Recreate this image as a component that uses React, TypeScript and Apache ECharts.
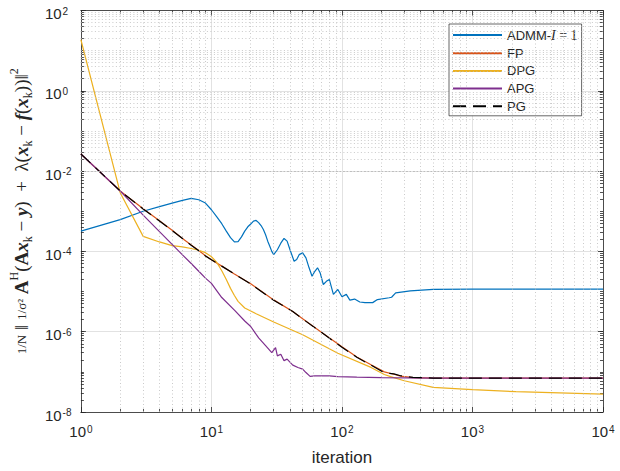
import React, { useEffect, useRef } from "react";
import * as echarts from "echarts";

// ---- data ----
const ADMM_K = [1, 2, 3, 4, 5, 6, 7, 8, 9, 10, 11, 12, 13, 14, 15, 16, 17, 18, 19, 20, 21, 22, 23, 24, 25, 26, 27, 28, 29, 30, 32, 34, 36, 38, 40, 43, 45, 47, 50, 53, 56, 59, 62, 65, 68, 72, 76, 80, 86, 93, 100, 108, 115, 125, 137, 150, 172, 187, 230, 240, 258, 334, 500, 1000, 10000];
const ADMM_V = [3.2e-4, 6.2e-4, 1.0e-3, 1.3e-3, 1.6e-3, 1.86e-3, 2.1e-3, 1.93e-3, 1.6e-3, 1.09e-3, 7.2e-4, 4.9e-4, 3.2e-4, 2.2e-4, 1.72e-4, 1.75e-4, 2.3e-4, 3.2e-4, 4.1e-4, 4.8e-4, 5.7e-4, 5.9e-4, 5.2e-4, 4.4e-4, 3.5e-4, 2.6e-4, 1.8e-4, 1.35e-4, 1.0e-4, 8.3e-5, 1.1e-4, 1.6e-4, 2.1e-4, 1.8e-4, 1.1e-4, 5.7e-5, 6.3e-5, 8.3e-5, 9.2e-5, 6.9e-5, 3.9e-5, 2.4e-5, 3.2e-5, 3.9e-5, 2.95e-5, 1.5e-5, 1.8e-5, 2.0e-5, 8.5e-6, 1.13e-5, 7.4e-6, 8.5e-6, 6.1e-6, 6.5e-6, 5.5e-6, 5.3e-6, 5.3e-6, 6.3e-6, 7.0e-6, 7.2e-6, 9.3e-6, 1.04e-5, 1.13e-5, 1.15e-5, 1.15e-5];

const PG_K = [1, 2, 3, 4, 5, 6, 7, 8, 9, 10, 12, 15, 20, 30, 42, 50, 70, 100, 130, 167, 211, 250, 281, 350, 500, 1000, 10000];
const PG_V = [2.67e-2, 3.2e-3, 1.14e-3, 5.7e-4, 3.3e-4, 2.1e-4, 1.43e-4, 1.04e-4, 7.7e-5, 6.2e-5, 4.3e-5, 2.75e-5, 1.55e-5, 6.1e-6, 3.2e-6, 2.08e-6, 9.5e-7, 4.1e-7, 2.3e-7, 1.47e-7, 9.5e-8, 8.9e-8, 8.0e-8, 7.3e-8, 7.0e-8, 7.0e-8, 7.0e-8];

const FP_K = [1, 2, 3, 4, 5, 6, 7, 8, 9, 10, 12, 15, 20, 30, 42, 50, 70, 100, 130, 167, 211, 250, 281, 350, 500, 1000, 10000];
const FP_V = [2.67e-2, 3.2e-3, 1.15e-3, 5.8e-4, 3.35e-4, 2.1e-4, 1.45e-4, 1.05e-4, 7.8e-5, 6.2e-5, 4.3e-5, 2.75e-5, 1.56e-5, 6.2e-6, 3.2e-6, 2.1e-6, 9.6e-7, 4.2e-7, 2.35e-7, 1.5e-7, 1.0e-7, 8.7e-8, 7.8e-8, 7.2e-8, 7.0e-8, 7.0e-8, 7.0e-8];

const DPG_K = [1, 2, 3, 4, 5, 6, 7, 8, 9, 10, 11, 12, 13, 14, 15, 16, 18, 22, 30, 50, 93, 167, 211, 236, 300, 500, 1000, 2150, 10000];
const DPG_V = [18.7, 2.9e-3, 2.37e-4, 1.72e-4, 1.39e-4, 1.29e-4, 1.18e-4, 1.07e-4, 9.3e-5, 7.4e-5, 5.3e-5, 3.3e-5, 2.0e-5, 1.2e-5, 8.0e-6, 5.7e-6, 3.9e-6, 2.8e-6, 1.75e-6, 8.4e-7, 2.9e-7, 1.29e-7, 8.6e-8, 7.6e-8, 6.0e-8, 4.1e-8, 3.6e-8, 3.2e-8, 2.8e-8];

const APG_K = [1, 2, 3, 4, 5, 6, 7, 8, 9, 10, 12, 15, 18, 20, 23, 26, 29, 31, 32, 34, 36, 38, 42, 46, 50, 53, 57, 62, 70, 80, 93, 130, 200, 500, 1000, 10000];
const APG_V = [2.67e-2, 3.2e-3, 8.0e-4, 3.1e-4, 1.5e-4, 8.2e-5, 5.0e-5, 3.2e-5, 2.16e-5, 1.6e-5, 7.1e-6, 3.45e-6, 1.85e-6, 1.35e-6, 7.0e-7, 4.5e-7, 3.0e-7, 4.0e-7, 2.5e-7, 2.75e-7, 1.9e-7, 2.07e-7, 1.47e-7, 1.28e-7, 1.17e-7, 9.6e-8, 7.7e-8, 7.9e-8, 8.0e-8, 7.9e-8, 7.6e-8, 7.4e-8, 7.2e-8, 7.0e-8, 7.0e-8, 7.0e-8];

const SERIES_NAMES = ["ADMM-I=1", "FP", "DPG", "APG", "PG"];
const X_MIN = 1;
const X_MAX = 10000;
const Y_MIN = 1e-8;
const Y_MAX = 100;

const SANS = "'Liberation Sans', Arial, Helvetica, sans-serif";
const SERIF = "'Liberation Serif', 'DejaVu Serif', serif";
const INK = "#262626";

const zip = (k: number[], v: number[]) => k.map((x, i) => [x, v[i]]);

// minor grid positions (2..9 x 10^d), plus odd decades on y
const minorX: number[] = [];
for (let d = 0; d < 4; d++) for (let m = 2; m <= 9; m++) minorX.push(m * Math.pow(10, d));
const minorY: number[] = [];
for (let d = -8; d < 2; d++) {
  for (let m = 1; m <= 9; m++) {
    if (m === 1 && d % 2 === 0) continue;
    minorY.push(Number((m * Math.pow(10, d)).toPrecision(3)));
  }
}

const powLabel = (v: number) => `{b|10}{s|${Math.round(Math.log10(v))}}`;
const tickRich = {
  b: { fontSize: 15, lineHeight: 15, padding: [6, 0, 0, 0], fontFamily: SANS, color: INK },
  s: { fontSize: 10, lineHeight: 10, padding: [3, 0, 0, 1], verticalAlign: "top", fontFamily: SANS, color: INK },
};

export default function App() {
  const ref = useRef<HTMLDivElement>(null);
  useEffect(() => {
    if (!ref.current) return;
    const chart = echarts.init(ref.current, null, { renderer: "svg" });
    const lineSeries = (name: string, data: number[][], color: string, extra: any = {}) => ({
      name,
      type: "line",
      data,
      symbol: "none",
      showSymbol: false,
      silent: true,
      itemStyle: { color },
      lineStyle: { color, width: 1.2, ...(extra.lineStyle || {}) },
      z: extra.z ?? 3,
    });
    const option: any = {
      animation: false,
      backgroundColor: "#ffffff",
      textStyle: { fontFamily: SANS },
      grid: { left: 71, right: 17, top: 10, bottom: 58, containLabel: false },
      legend: {
        data: SERIES_NAMES,
        orient: "vertical",
        left: 449,
        top: 24,
        padding: [4, 4, 3, 3],
        itemGap: 4.7,
        itemWidth: 49,
        itemHeight: 14,
        borderColor: INK,
        borderWidth: 0.7,
        borderRadius: 0,
        backgroundColor: "#ffffff",
        selectedMode: false,
        itemStyle: { color: "rgba(0,0,0,0)", borderWidth: 0, opacity: 0 },
        formatter: (name: string) => (name === "ADMM-I=1" ? "ADMM-{i|I}{e| = 1}" : name),
        textStyle: {
          fontSize: 13,
          color: INK,
          fontFamily: SANS,
          rich: {
            i: { fontSize: 14, fontStyle: "italic", fontFamily: SERIF, color: INK },
            e: { fontSize: 14, fontFamily: SERIF, color: INK },
          },
        },
      },
      xAxis: [
        {
          type: "log",
          logBase: 10,
          min: X_MIN,
          max: X_MAX,
          interval: 1,
          position: "bottom",
          name: "iteration",
          nameLocation: "middle",
          nameGap: 37,
          nameTextStyle: { fontSize: 17, color: INK, fontFamily: SANS },
          axisLine: { show: true, lineStyle: { color: INK, width: 0.8 } },
          axisTick: { show: true, inside: true, length: 5, lineStyle: { color: INK, width: 0.8 } },
          minorTick: { show: true, splitNumber: 9, length: 3, lineStyle: { color: INK, width: 0.8 } },
          axisLabel: { formatter: powLabel, margin: 9, rich: tickRich },
          splitLine: { show: true, lineStyle: { color: "#e2e2e2", width: 1 } },
          minorSplitLine: { show: false },
        },
        {
          type: "log",
          logBase: 10,
          min: X_MIN,
          max: X_MAX,
          interval: 1,
          position: "top",
          axisLine: { show: true, lineStyle: { color: INK, width: 0.8 } },
          axisTick: { show: true, inside: true, length: 5, lineStyle: { color: INK, width: 0.8 } },
          minorTick: { show: true, splitNumber: 9, length: 3, lineStyle: { color: INK, width: 0.8 } },
          axisLabel: { show: false },
          splitLine: { show: false },
        },
      ],
      yAxis: [
        {
          type: "log",
          logBase: 10,
          min: Y_MIN,
          max: Y_MAX,
          interval: 2,
          position: "left",
          name:
            "{fr|1/N} ‖ {fr|1/σ²} {A|A}{sp|H}({A|A}{bi|x}{sb|k} − {bi|y})  +  λ({bi|x}{sb|k} − {bi|f}({bi|x}{sb|k}))‖{sp|2}",
          nameLocation: "middle",
          nameRotate: 90,
          nameGap: 40,
          nameTextStyle: {
            fontSize: 19,
            lineHeight: 26,
            color: INK,
            fontFamily: SERIF,
            rich: {
              fr: { fontSize: 13, fontFamily: SERIF, color: INK },
              A: { fontSize: 19, fontWeight: "bold", fontFamily: SERIF, color: INK },
              bi: { fontSize: 19, fontWeight: "bold", fontStyle: "italic", fontFamily: SERIF, color: INK },
              sp: { fontSize: 12, lineHeight: 12, verticalAlign: "top", fontFamily: SERIF, color: INK },
              sb: { fontSize: 12, lineHeight: 12, verticalAlign: "bottom", fontFamily: SERIF, color: INK },
            },
          },
          axisLine: { show: true, lineStyle: { color: INK, width: 0.8 } },
          axisTick: { show: true, inside: true, length: 5, lineStyle: { color: INK, width: 0.8 } },
          axisLabel: { formatter: powLabel, margin: 36, align: "left", rich: tickRich },
          splitLine: { show: true, lineStyle: { color: "#e2e2e2", width: 1 } },
        },
        {
          type: "log",
          logBase: 10,
          min: Y_MIN,
          max: Y_MAX,
          interval: 1,
          position: "left",
          axisLine: { show: false },
          axisTick: { show: true, inside: true, length: 3, lineStyle: { color: INK, width: 0.8 } },
          minorTick: { show: true, splitNumber: 9, length: 3, lineStyle: { color: INK, width: 0.8 } },
          axisLabel: { show: false },
          splitLine: { show: false },
        },
        {
          type: "log",
          logBase: 10,
          min: Y_MIN,
          max: Y_MAX,
          interval: 2,
          position: "right",
          axisLine: { show: true, lineStyle: { color: INK, width: 0.8 } },
          axisTick: { show: true, inside: true, length: 5, lineStyle: { color: INK, width: 0.8 } },
          axisLabel: { show: false },
          splitLine: { show: false },
        },
        {
          type: "log",
          logBase: 10,
          min: Y_MIN,
          max: Y_MAX,
          interval: 1,
          position: "right",
          axisLine: { show: false },
          axisTick: { show: true, inside: true, length: 3, lineStyle: { color: INK, width: 0.8 } },
          minorTick: { show: true, splitNumber: 9, length: 3, lineStyle: { color: INK, width: 0.8 } },
          axisLabel: { show: false },
          splitLine: { show: false },
        },
      ],
      series: [
        {
          name: "_grid",
          type: "line",
          data: [],
          silent: true,
          z: 1,
          markLine: {
            silent: true,
            symbol: ["none", "none"],
            label: { show: false },
            emphasis: { disabled: true },
            lineStyle: { color: "#bcbcbc", type: [1, 2.5], width: 0.8 },
            data: [...minorX.map((v) => ({ xAxis: v })), ...minorY.map((v) => ({ yAxis: v }))],
          },
        },
        lineSeries("ADMM-I=1", zip(ADMM_K, ADMM_V), "#0072BD"),
        lineSeries("FP", zip(FP_K, FP_V), "#D95319"),
        lineSeries("DPG", zip(DPG_K, DPG_V), "#EDB120"),
        lineSeries("APG", zip(APG_K, APG_V), "#7E2F8E"),
        lineSeries("PG", zip(PG_K, PG_V), "#000000", { lineStyle: { type: [13, 7] }, z: 4 }),
      ],
    };
    chart.setOption(option);
    return () => chart.dispose();
  }, []);
  return (
    <div
      ref={ref}
      style={{ position: "fixed", left: 0, top: 0, width: 620, height: 471, background: "#fff" }}
    />
  );
}
